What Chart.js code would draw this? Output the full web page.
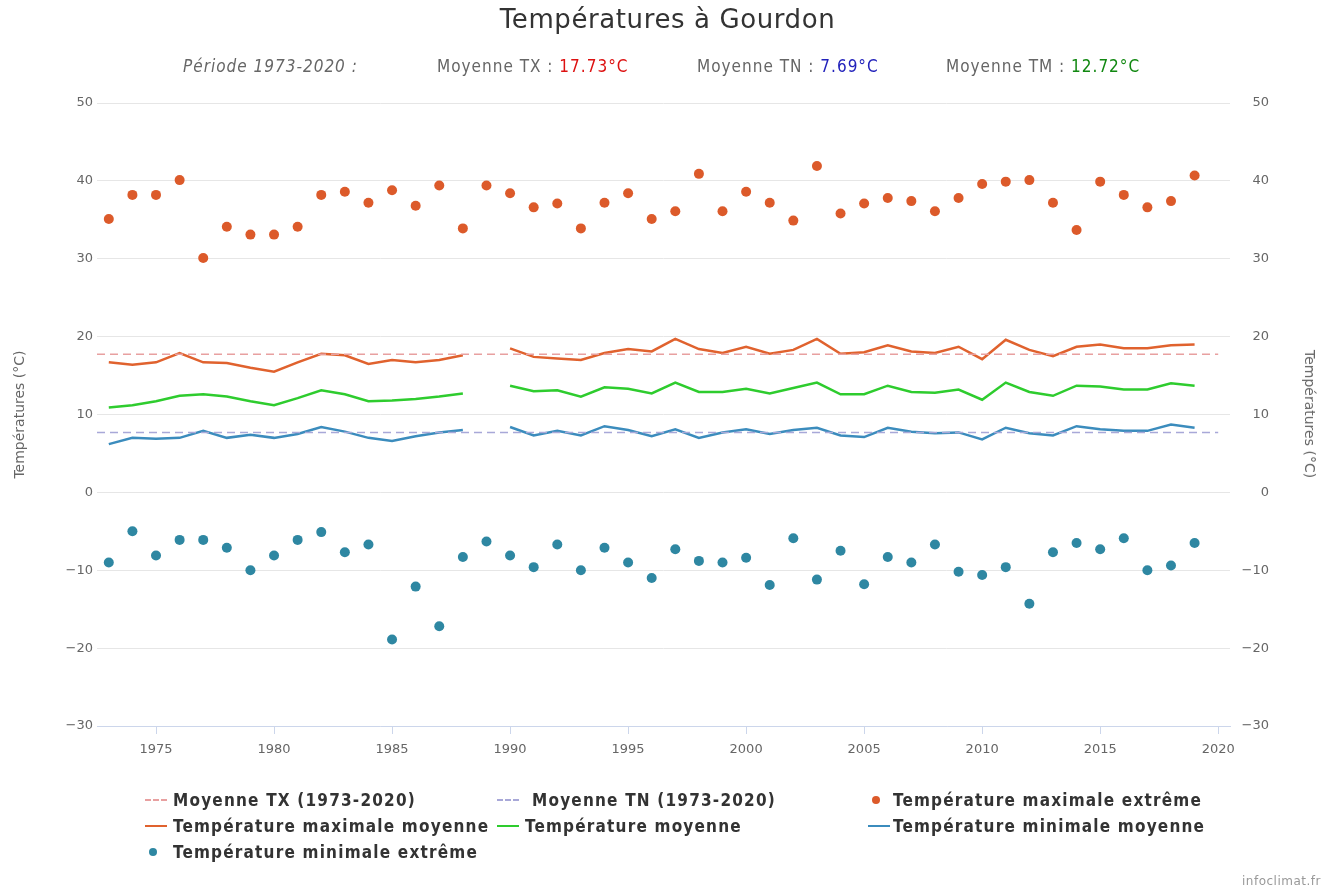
<!DOCTYPE html>
<html>
<head>
<meta charset="utf-8">
<script src="https://cdn.jsdelivr.net/npm/chart.js@4"></script>
<style>
  body { margin: 0; background: #fff; }
  #wrap { position: relative; width: 1335px; height: 890px; }
  #chart { position: absolute; left: 0; top: 0; }
  .txt { position: absolute; white-space: nowrap; font-family: "DejaVu Sans Condensed", "Liberation Sans Narrow", sans-serif; }
  #title { left: 0; width: 1335px; top: 4px; text-align: center; font-family: "DejaVu Sans", sans-serif; font-size: 26px; letter-spacing: 0.6px; color: #333; }
  .sub { top: 56px; font-size: 17px; letter-spacing: 1px; color: #666; }
  .leg { font-size: 17px; letter-spacing: 1.2px; font-weight: bold; color: #333; line-height: 20px; }
  .sym { position: absolute; }
  #rtitle { left: 1310px; top: 414px; font-family: "DejaVu Sans", sans-serif; font-size: 14px; color: #666; transform: translate(-50%, -50%) rotate(90deg); }
  #credit { right: 14px; top: 874px; font-size: 12px; letter-spacing: 0.5px; color: #999; font-family: "DejaVu Sans", sans-serif; }
</style>
</head>
<body>
<div id="wrap">
  <canvas id="chart" width="1335" height="890"></canvas>
  <div id="title" class="txt">Températures à Gourdon</div>
  <div class="txt sub" style="left:183px;font-style:italic">Période 1973-2020 :</div>
  <div class="txt sub" style="left:437px">Moyenne TX : <span style="color:#dd1111">17.73°C</span></div>
  <div class="txt sub" style="left:697px">Moyenne TN : <span style="color:#2222bb">7.69°C</span></div>
  <div class="txt sub" style="left:946px">Moyenne TM : <span style="color:#118811">12.72°C</span></div>
  <div id="rtitle" class="txt">Températures (°C)</div>
  <div id="legend"></div>
  <div id="credit" class="txt">infoclimat.fr</div>
</div>
<script>
// données annuelles (Gourdon)
const years = [1973, 1974, 1975, 1976, 1977, 1978, 1979, 1980, 1981, 1982,
  1983, 1984, 1985, 1986, 1987, 1988, 1989, 1990, 1991, 1992,
  1993, 1994, 1995, 1996, 1997, 1998, 1999, 2000, 2001, 2002,
  2003, 2004, 2005, 2006, 2007, 2008, 2009, 2010, 2011, 2012,
  2013, 2014, 2015, 2016, 2017, 2018, 2019];

const txExtreme = [35.1, 38.2, 38.2, 40.1, 30.1, 34.1, 33.1, 33.1, 34.1, 38.2,
  38.6, 37.2, 38.8, 36.8, 39.4, 33.9, 39.4, 38.4, 36.6, 37.1,
  33.9, 37.2, 38.4, 35.1, 36.1, 40.9, 36.1, 38.6, 37.2, 34.9,
  41.9, 35.8, 37.1, 37.8, 37.4, 36.1, 37.8, 39.6, 39.9, 40.1,
  37.2, 33.7, 39.9, 38.2, 36.6, 37.4, 40.7];

const tnExtreme = [-9.0, -5.0, -8.1, -6.1, -6.1, -7.1, -10.0, -8.1, -6.1, -5.1,
  -7.7, -6.7, -18.9, -12.1, -17.2, -8.3, -6.3, -8.1, -9.6, -6.7,
  -10.0, -7.1, -9.0, -11.0, -7.3, -8.8, -9.0, -8.4, -11.9, -5.9,
  -11.2, -7.5, -11.8, -8.3, -9.0, -6.7, -10.2, -10.6, -9.6, -14.3,
  -7.7, -6.5, -7.3, -5.9, -10.0, -9.4, -6.5];

const txMean = [16.7, 16.4, 16.7, 17.9, 16.7, 16.6, 16.0, 15.5, 16.7, 17.8,
  17.6, 16.5, 17.0, 16.7, 17.0, 17.6, null, 18.5, 17.4, 17.2,
  17.0, 17.9, 18.4, 18.1, 19.7, 18.4, 17.9, 18.7, 17.8, 18.3,
  19.7, 17.8, 18.0, 18.9, 18.1, 17.9, 18.7, 17.1, 19.6, 18.3,
  17.5, 18.7, 19.0, 18.5, 18.5, 18.9, 19.0];

const tmMean = [10.9, 11.2, 11.7, 12.4, 12.6, 12.3, 11.7, 11.2, 12.1, 13.1,
  12.6, 11.7, 11.8, 12.0, 12.3, 12.7, null, 13.7, 13.0, 13.1,
  12.3, 13.5, 13.3, 12.7, 14.1, 12.9, 12.9, 13.3, 12.7, 13.4,
  14.1, 12.6, 12.6, 13.7, 12.9, 12.8, 13.2, 11.9, 14.1, 12.9,
  12.4, 13.7, 13.6, 13.2, 13.2, 14.0, 13.7];

const tnMean = [6.2, 7.0, 6.9, 7.0, 7.9, 7.0, 7.4, 7.0, 7.5, 8.4,
  7.8, 7.0, 6.6, 7.2, 7.7, 8.0, null, 8.4, 7.3, 7.9,
  7.3, 8.5, 8.0, 7.2, 8.1, 7.0, 7.7, 8.1, 7.5, 8.0,
  8.3, 7.3, 7.1, 8.3, 7.8, 7.6, 7.7, 6.8, 8.3, 7.6,
  7.3, 8.5, 8.1, 7.9, 7.9, 8.7, 8.3];

const meanTX = 17.73;
const meanTN = 7.69;
const periodYears = [1972.5, 2020]; // étendue des lignes de moyenne
const yearTicks = [1975, 1980, 1985, 1990, 1995, 2000, 2005, 2010, 2015, 2020];
const tempTicks = [-30, -20, -10, 0, 10, 20, 30, 40, 50];

const C_TXPT = "#dc5a2a";
const C_TXLN = "#e0622e";
const C_TM = "#2ecc2e";
const C_TN = "#3b8cbd";
const C_TNPT = "#2e87a2";
const C_DTX = "#e8a0a0";
const C_DTN = "#a8a8d8";

const pts = (vals) => years.map((y, i) => ({ x: y, y: vals[i] }));

const legendItems = [
  { label: "Moyenne TX (1973-2020)", type: "dash", color: C_DTX, x: 145, y: 790, tx: 173 },
  { label: "Moyenne TN (1973-2020)", type: "dash", color: C_DTN, x: 497, y: 790, tx: 532 },
  { label: "Température maximale extrême", type: "dot", color: C_TXPT, x: 868, y: 790, tx: 893 },
  { label: "Température maximale moyenne", type: "line", color: C_TXLN, x: 145, y: 816, tx: 173 },
  { label: "Température moyenne", type: "line", color: C_TM, x: 497, y: 816, tx: 525 },
  { label: "Température minimale moyenne", type: "line", color: C_TN, x: 868, y: 816, tx: 893 },
  { label: "Température minimale extrême", type: "dot", color: C_TNPT, x: 145, y: 842, tx: 173 },
];

function buildLegend() {
  const box = document.getElementById("legend");
  legendItems.forEach((it) => {
    const s = document.createElement("div");
    s.className = "sym";
    if (it.type === "dash") {
      s.style.cssText = `left:${it.x}px;top:${it.y + 9}px;width:22px;height:0;border-top:2px dashed ${it.color}`;
    } else if (it.type === "line") {
      s.style.cssText = `left:${it.x}px;top:${it.y + 9}px;width:22px;height:2px;background:${it.color}`;
    } else {
      s.style.cssText = `left:${it.x + 4}px;top:${it.y + 6}px;width:8px;height:8px;border-radius:50%;background:${it.color}`;
    }
    box.appendChild(s);
    const t = document.createElement("div");
    t.className = "txt leg";
    t.style.left = it.tx + "px";
    t.style.top = it.y + "px";
    t.textContent = it.label;
    box.appendChild(t);
  });
}
buildLegend();

const tickFont = { family: "DejaVu Sans", size: 13 };
const minus = (v) => String(v).replace("-", "\u2212");

new Chart(document.getElementById("chart"), {
  type: "line",
  data: {
    datasets: [
      {
        label: "Moyenne TX (1973-2020)",
        data: periodYears.map((y) => ({ x: y, y: meanTX })),
        borderColor: C_DTX,
        borderWidth: 1.5,
        borderDash: [8, 5],
        pointRadius: 0,
      },
      {
        label: "Moyenne TN (1973-2020)",
        data: periodYears.map((y) => ({ x: y, y: meanTN })),
        borderColor: C_DTN,
        borderWidth: 1.5,
        borderDash: [8, 5],
        pointRadius: 0,
      },
      {
        label: "Température maximale extrême",
        data: pts(txExtreme),
        showLine: false,
        pointRadius: 5,
        pointBackgroundColor: C_TXPT,
        pointBorderWidth: 0,
      },
      {
        label: "Température maximale moyenne",
        data: pts(txMean),
        borderColor: C_TXLN,
        borderWidth: 2.5,
        pointRadius: 0,
        spanGaps: false,
      },
      {
        label: "Température moyenne",
        data: pts(tmMean),
        borderColor: C_TM,
        borderWidth: 2.5,
        pointRadius: 0,
        spanGaps: false,
      },
      {
        label: "Température minimale moyenne",
        data: pts(tnMean),
        borderColor: C_TN,
        borderWidth: 2.5,
        pointRadius: 0,
        spanGaps: false,
      },
      {
        label: "Température minimale extrême",
        data: pts(tnExtreme),
        showLine: false,
        pointRadius: 5,
        pointBackgroundColor: C_TNPT,
        pointBorderWidth: 0,
      },
    ],
  },
  options: {
    responsive: false,
    animation: false,
    layout: { padding: { top: 103, left: 0, right: 66, bottom: 0 } },
    plugins: { legend: { display: false }, tooltip: { enabled: false }, title: { display: false } },
    scales: {
      x: {
        type: "linear",
        min: 1972.5,
        max: 2020.5,
        afterBuildTicks: (s) => { s.ticks = yearTicks.map((v) => ({ value: v })); },
        afterFit: (s) => { s.height = 164; },
        grid: { drawOnChartArea: false, drawTicks: true, tickLength: 8, color: "#ccd6eb" },
        border: { color: "#ccd6eb" },
        ticks: { font: tickFont, color: "#666", padding: 8, maxRotation: 0, callback: (v) => String(v) },
      },
      y: {
        position: "left",
        min: -30,
        max: 50,
        afterBuildTicks: (s) => { s.ticks = tempTicks.map((v) => ({ value: v })); },
        afterFit: (s) => { s.width = 97; },
        grid: { color: "#e6e6e6", drawTicks: false },
        border: { display: false },
        ticks: { font: tickFont, color: "#666", padding: 4, callback: minus },
        title: { display: true, text: "Températures (°C)", color: "#666", font: { family: "DejaVu Sans", size: 14 }, padding: { top: 12, bottom: 0 } },
      },
      y2: {
        position: "right",
        min: -30,
        max: 50,
        afterBuildTicks: (s) => { s.ticks = tempTicks.map((v) => ({ value: v })); },
        afterFit: (s) => { s.width = 39; },
        grid: { drawOnChartArea: false, drawTicks: false },
        border: { display: false },
        ticks: { font: tickFont, color: "#666", padding: 8, crossAlign: "far", callback: minus },
      },
    },
  },
});
</script>
</body>
</html>
